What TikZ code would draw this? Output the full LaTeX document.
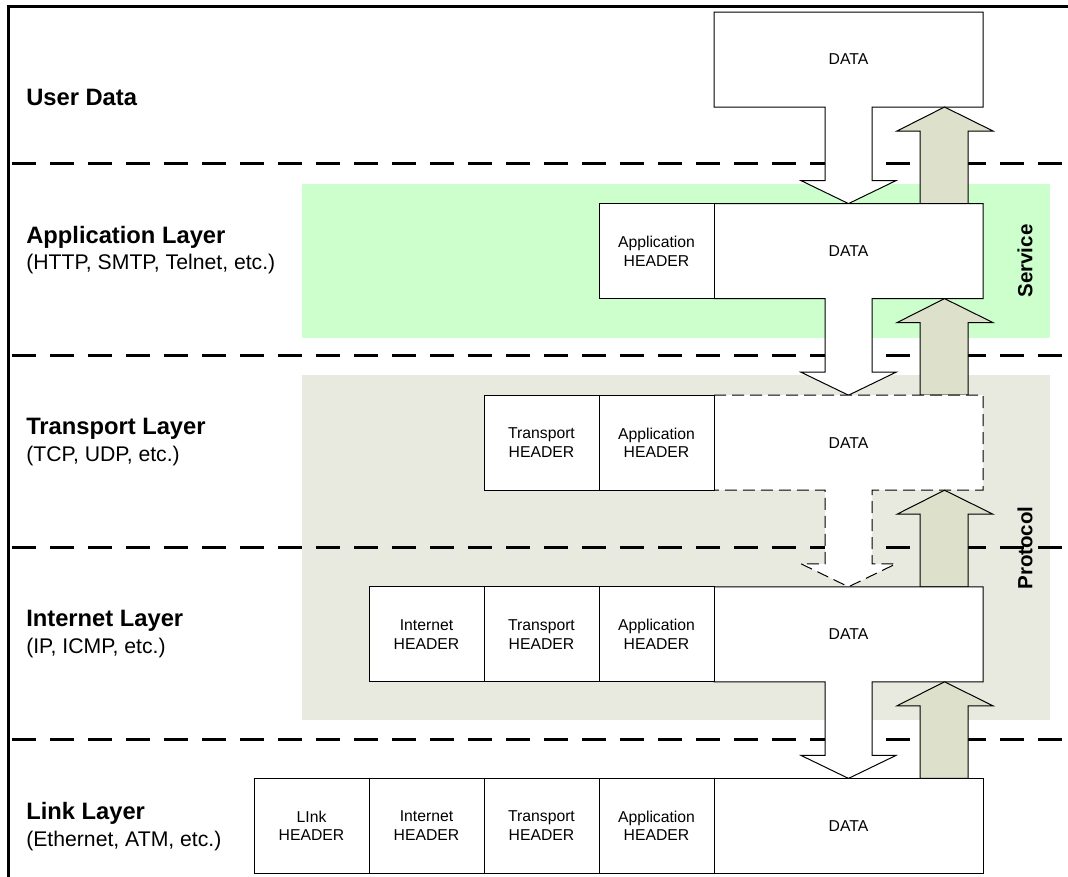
\documentclass[tikz,border=0pt]{standalone}
\usepackage{fontspec}
\setmainfont{Liberation Sans}
\definecolor{servicebg}{HTML}{CCFFCC}
\definecolor{protocolbg}{HTML}{E8EADF}
\definecolor{upfill}{HTML}{DDE0CA}
\begin{document}
\begin{tikzpicture}[x=0.75pt,y=-0.75pt,
  cell/.style={draw,line width=0.75pt,fill=white,minimum width=86.25pt,minimum height=71.25pt,inner sep=0pt,align=center,font=\fontsize{11.8}{14}\selectfont},
  databox/.style={draw,line width=0.75pt,fill=white},
  trdash/.style={dash pattern=on 9pt off 4.5pt},
  uparrow/.style={draw,line width=0.75pt,fill=upfill},
  datatext/.style={font=\fontsize{11.8}{14}\selectfont},
  layer/.style={anchor=west,inner sep=0pt,font=\bfseries\fontsize{17.8}{21}\selectfont},
  proto/.style={anchor=west,inner sep=0pt,font=\fontsize{15.9}{19}\selectfont},
  sep/.style={line width=2.25pt,dash pattern=on 18pt off 10.5pt},
  side/.style={rotate=90,font=\bfseries\fontsize{15.4}{18}\selectfont}]
\useasboundingbox (0,0) rectangle (1068,876);
\pgfmathsetmacro{\gap}{191.6}
\fill[servicebg] (302,184) rectangle (1050,338);
\fill[protocolbg] (302,375) rectangle (1050,720);
\draw[line width=2.25pt] (8,890) -- (8,6) -- (1080,6);
\foreach \k in {0,1,2,3}{\draw[sep] (12,163+192*\k) -- (1068,163+192*\k);}
\foreach \k/\sty in {0/solid,1/solid,2/trdash,3/solid}{
  \pgfmathsetmacro{\T}{12+\gap*\k}
  \pgfmathsetmacro{\B}{\T+95}
  \pgfmathsetmacro{\N}{\T+\gap}
  \draw[databox,\sty] (714,\T) -- (983,\T) -- (983,\B) -- (872,\B) -- (872,\N-23) -- (896,\N-23) -- (848.5,\N) -- (801,\N-23) -- (825,\N-23) -- (825,\B) -- (714,\B) -- cycle;
  \draw[uparrow] (920,\N) -- (920,\B+24) -- (897,\B+24) -- (944.5,\B) -- (993,\B+24) -- (968,\B+24) -- (968,\N) -- cycle;
  \node[datatext] (data\k) at (848.5,\T+47.5) {DATA};
}
\draw[databox] (714,12+4*\gap) rectangle (983,107+4*\gap);
\node[datatext] (data4) at (848.5,59.5+4*\gap) {DATA};
\foreach \k/\names in {1/{Application},2/{Transport,Application},3/{Internet,Transport,Application},4/{LInk,Internet,Transport,Application}}{
  \foreach \n [count=\i] in \names {
    \node[cell] (\n-hdr-\k) at (714-115*\k+115*\i-57.5,59.5+\gap*\k) {\n\\HEADER};
  }
}
\node[layer] (userdata) at (26,97) {User Data};
\foreach \k/\title/\list in {1/Application Layer/{(HTTP, SMTP, Telnet, etc.)},2/Transport Layer/{(TCP, UDP, etc.)},3/Internet Layer/{(IP, ICMP, etc.)},4/Link Layer/{(Ethernet, ATM, etc.)}}{
  \node[layer] (layer\k) at (26,45+192*\k) {\title};
  \node[proto] (proto\k) at (26,72.5+192*\k) {\list};
}
\node[side] (service) at (1025,261) {Service};
\node[side] (protocol) at (1025,548) {Protocol};
\end{tikzpicture}
\end{document}
